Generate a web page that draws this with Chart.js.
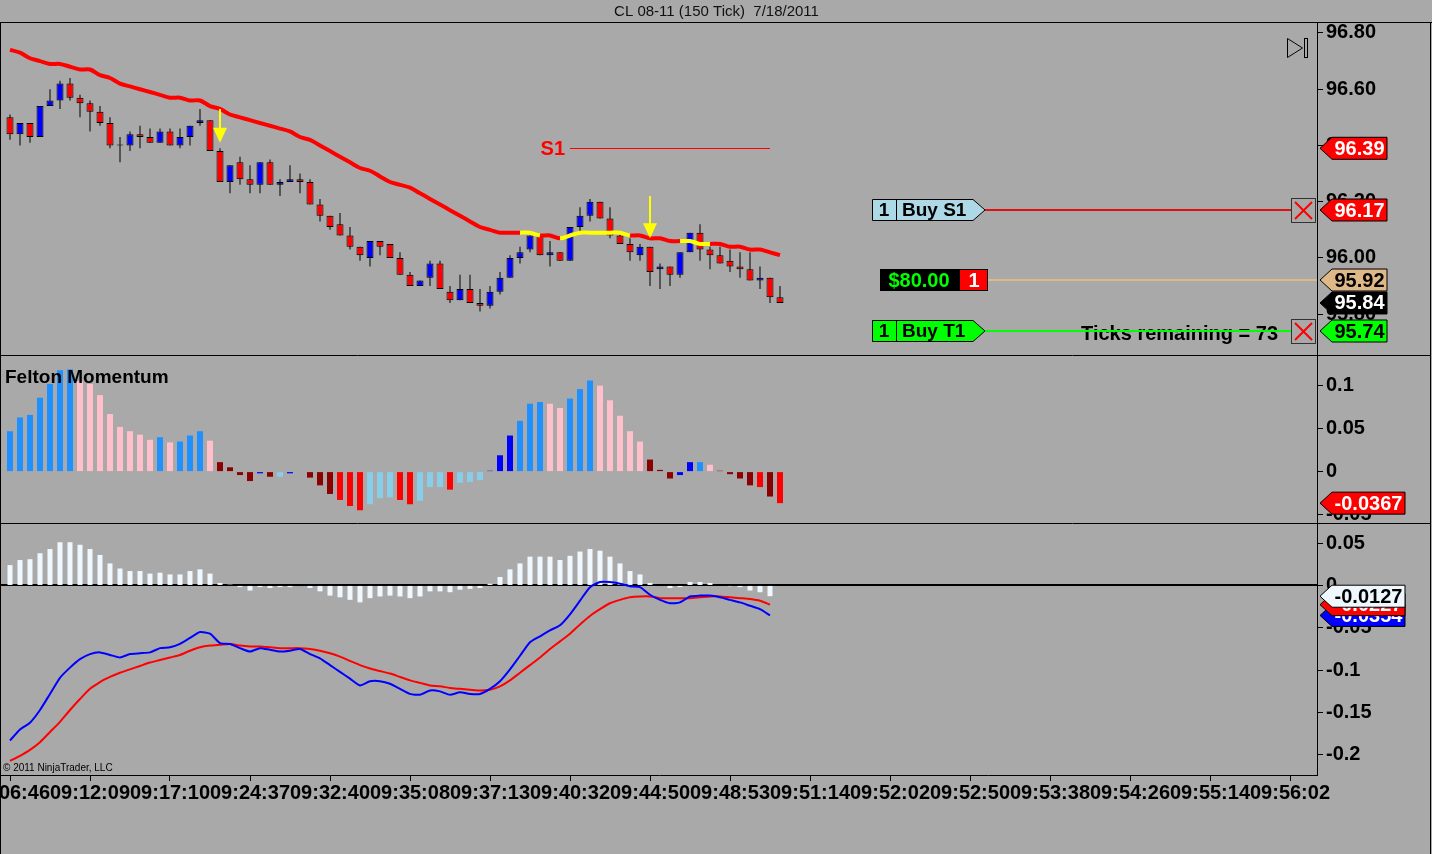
<!DOCTYPE html>
<html lang="en">
<head>
<meta charset="UTF-8">
<title>CL 08-11 (150 Tick) 7/18/2011</title>
<script src="https://cdn.jsdelivr.net/npm/chart.js"></script>
<style>
  html, body { margin: 0; padding: 0; background: #a9a9a9; overflow: hidden; }
  #wrap { width: 1432px; height: 854px; position: relative; }
</style>
</head>
<body>
<div id="wrap"><canvas id="chart"></canvas></div>
<script>
// ---- chart values ----
const timeLabels = ["09:06:46", "09:12:09", "09:17:10", "09:24:37", "09:32:40", "09:35:08", "09:37:13",
  "09:40:32", "09:44:50", "09:48:53", "09:51:14", "09:52:02", "09:52:50", "09:53:38", "09:54:26",
  "09:55:14", "09:56:02"];
const barsPerLabel = 8;

const opens = [96.50, 96.44, 96.48, 96.43, 96.54, 96.56, 96.62, 96.57, 96.55, 96.52,
  96.48, 96.40, 96.40, 96.44, 96.43, 96.41, 96.45, 96.40, 96.43, 96.48,
  96.49, 96.38, 96.27, 96.34, 96.28, 96.26, 96.34, 96.26, 96.27, 96.28,
  96.27, 96.19, 96.15, 96.12, 96.08, 96.04, 96.00, 96.06, 96.05, 96.00,
  95.94, 95.90, 95.93, 95.98, 95.88, 95.85, 95.89, 95.84, 95.83, 95.88,
  95.93, 96.00, 96.03, 96.08, 96.01, 96.02, 95.99, 96.11, 96.15, 96.20,
  96.14, 96.08, 96.05, 96.01, 96.04, 95.96, 95.97, 95.94, 96.02, 96.09,
  96.03, 96.01, 95.99, 95.97, 95.96, 95.92, 95.93, 95.86];
const highs = [96.51, 96.48, 96.48, 96.54, 96.60, 96.63, 96.64, 96.58, 96.56, 96.54,
  96.50, 96.43, 96.45, 96.47, 96.46, 96.46, 96.46, 96.46, 96.47, 96.53,
  96.49, 96.39, 96.33, 96.36, 96.33, 96.34, 96.35, 96.28, 96.33, 96.30,
  96.28, 96.21, 96.15, 96.16, 96.11, 96.04, 96.06, 96.06, 96.05, 96.02,
  95.95, 95.92, 95.99, 95.99, 95.90, 95.94, 95.94, 95.89, 95.90, 95.95,
  96.01, 96.04, 96.08, 96.08, 96.06, 96.02, 96.11, 96.18, 96.21, 96.20,
  96.18, 96.09, 96.07, 96.05, 96.04, 95.98, 95.97, 96.02, 96.09, 96.12,
  96.04, 96.04, 96.03, 96.02, 96.02, 95.97, 95.93, 95.90];
const lows = [96.42, 96.40, 96.41, 96.43, 96.54, 96.53, 96.56, 96.50, 96.45, 96.47,
  96.39, 96.34, 96.38, 96.39, 96.41, 96.41, 96.40, 96.39, 96.40, 96.47,
  96.38, 96.27, 96.23, 96.26, 96.23, 96.23, 96.26, 96.22, 96.27, 96.23,
  96.19, 96.13, 96.10, 96.08, 96.03, 95.99, 95.97, 96.01, 96.00, 95.94,
  95.90, 95.90, 95.90, 95.89, 95.84, 95.85, 95.84, 95.81, 95.82, 95.87,
  95.93, 95.98, 96.02, 96.01, 95.97, 95.99, 95.99, 96.09, 96.13, 96.14,
  96.07, 96.05, 95.99, 95.99, 95.90, 95.89, 95.90, 95.93, 96.02, 95.99,
  95.96, 95.98, 95.95, 95.93, 95.92, 95.89, 95.84, 95.84];
const closes = [96.44, 96.48, 96.43, 96.54, 96.56, 96.62, 96.57, 96.55, 96.52, 96.48,
  96.40, 96.40, 96.44, 96.43, 96.41, 96.45, 96.40, 96.43, 96.47, 96.49,
  96.38, 96.27, 96.33, 96.28, 96.26, 96.34, 96.26, 96.27, 96.28, 96.27,
  96.19, 96.15, 96.11, 96.08, 96.04, 96.01, 96.06, 96.04, 96.00, 95.94,
  95.90, 95.92, 95.98, 95.89, 95.85, 95.89, 95.84, 95.83, 95.88, 95.93,
  96.00, 96.02, 96.08, 96.01, 96.02, 95.99, 96.11, 96.15, 96.20, 96.14,
  96.08, 96.05, 96.02, 96.04, 95.95, 95.97, 95.94, 96.02, 96.09, 96.03,
  96.01, 95.98, 95.97, 95.96, 95.92, 95.93, 95.86, 95.84];

// moving average drawn over the candles, with the bars where it turns yellow
const smaValues = [96.74, 96.73, 96.71, 96.70, 96.69, 96.69, 96.68, 96.67, 96.67, 96.65,
  96.64, 96.62, 96.61, 96.60, 96.59, 96.58, 96.57, 96.57, 96.56, 96.56,
  96.54, 96.53, 96.51, 96.50, 96.49, 96.48, 96.47, 96.46, 96.45, 96.43,
  96.42, 96.40, 96.38, 96.36, 96.34, 96.32, 96.31, 96.29, 96.27, 96.26,
  96.25, 96.23, 96.21, 96.19, 96.17, 96.15, 96.13, 96.11, 96.10, 96.09,
  96.09, 96.09, 96.09, 96.08, 96.08, 96.07, 96.08, 96.09, 96.09, 96.09,
  96.09, 96.09, 96.08, 96.08, 96.07, 96.07, 96.06, 96.06, 96.06, 96.05,
  96.05, 96.05, 96.04, 96.04, 96.03, 96.03, 96.02, 96.01];
const smaYellowRuns = [[51, 53], [55, 62], [67, 70]];

// yellow down arrows
const signalBars = [21, 64];
const signalFrom = [96.53, 96.22];
const signalTo = [96.41, 96.07];

// S1 level and working orders
const s1Level = 96.39;
const s1FromBar = 56;
const s1ToBar = 76;
const buyStopPrice = 96.17;
const entryPrice = 95.92;
const targetPrice = 95.74;
const orderQty = 1;
const openPnl = "$80.00";
const ticksRemaining = 73;

// Felton Momentum histogram
const feltonValues = [0.047, 0.063, 0.066, 0.086, 0.102, 0.118, 0.119, 0.105, 0.102, 0.089,
  0.067, 0.052, 0.047, 0.043, 0.037, 0.040, 0.034, 0.035, 0.042, 0.047,
  0.036, 0.011, 0.005, -0.004, -0.011, -0.002, -0.006, -0.006, -0.002, 0.000,
  -0.007, -0.016, -0.026, -0.033, -0.040, -0.045, -0.038, -0.031, -0.030, -0.033,
  -0.038, -0.034, -0.018, -0.018, -0.021, -0.013, -0.012, -0.010, 0.001, 0.019,
  0.042, 0.059, 0.079, 0.081, 0.079, 0.074, 0.085, 0.096, 0.106, 0.100,
  0.083, 0.065, 0.047, 0.035, 0.014, 0.002, -0.008, -0.004, 0.011, 0.011,
  0.008, 0.001, -0.003, -0.008, -0.016, -0.018, -0.029, -0.0367];
const feltonStates = ["DB", "DB", "DB", "DB", "DB", "DB", "DB", "PK", "PK", "PK",
  "PK", "PK", "PK", "PK", "PK", "DB", "PK", "DB", "DB", "DB",
  "PK", "DR", "DR", "DR", "DR", "BL", "DR", "SB", "BL", "DR",
  "DR", "DR", "DR", "RD", "RD", "RD", "SB", "SB", "SB", "RD",
  "RD", "SB", "SB", "SB", "RD", "SB", "SB", "SB", "BL", "BL",
  "BL", "DB", "DB", "DB", "PK", "PK", "DB", "DB", "DB", "PK",
  "PK", "PK", "PK", "PK", "DR", "DR", "DR", "BL", "BL", "DB",
  "PK", "DR", "DR", "DR", "DR", "RD", "DR", "RD"];

// MACD panel
const macdHist = [0.024, 0.030, 0.031, 0.038, 0.043, 0.051, 0.051, 0.048, 0.043, 0.036,
  0.026, 0.020, 0.017, 0.017, 0.014, 0.015, 0.013, 0.013, 0.017, 0.019,
  0.014, 0.003, 0.001, -0.002, -0.006, -0.002, -0.003, -0.002, -0.002, 0.000,
  -0.003, -0.007, -0.012, -0.014, -0.017, -0.020, -0.015, -0.013, -0.012, -0.013,
  -0.015, -0.013, -0.007, -0.007, -0.008, -0.005, -0.004, -0.003, 0.002, 0.010,
  0.019, 0.026, 0.034, 0.034, 0.034, 0.030, 0.035, 0.040, 0.043, 0.041,
  0.034, 0.026, 0.017, 0.013, 0.003, 0.000, -0.003, -0.002, 0.004, 0.004,
  0.003, 0.000, -0.001, -0.002, -0.006, -0.008, -0.0127];
const macdLine = [-0.183, -0.170, -0.162, -0.147, -0.128, -0.109, -0.097, -0.087, -0.081, -0.079,
  -0.082, -0.085, -0.081, -0.080, -0.079, -0.074, -0.073, -0.069, -0.062, -0.055,
  -0.057, -0.068, -0.069, -0.074, -0.078, -0.074, -0.076, -0.078, -0.077, -0.075,
  -0.081, -0.086, -0.094, -0.102, -0.110, -0.118, -0.113, -0.113, -0.116, -0.122,
  -0.128, -0.129, -0.124, -0.125, -0.129, -0.126, -0.128, -0.128, -0.122, -0.113,
  -0.099, -0.083, -0.067, -0.060, -0.053, -0.047, -0.034, -0.018, -0.002, 0.004,
  0.004, 0.002, -0.001, -0.002, -0.011, -0.017, -0.021, -0.020, -0.013, -0.012,
  -0.012, -0.014, -0.017, -0.020, -0.024, -0.028, -0.0354];
const macdSignal = [-0.207, -0.201, -0.194, -0.185, -0.173, -0.161, -0.147, -0.134, -0.122, -0.114,
  -0.108, -0.103, -0.099, -0.095, -0.091, -0.088, -0.085, -0.082, -0.077, -0.073,
  -0.071, -0.070, -0.069, -0.071, -0.072, -0.072, -0.073, -0.074, -0.074, -0.074,
  -0.075, -0.077, -0.080, -0.084, -0.089, -0.094, -0.098, -0.101, -0.104, -0.108,
  -0.112, -0.115, -0.118, -0.119, -0.121, -0.122, -0.123, -0.124, -0.123, -0.119,
  -0.112, -0.103, -0.094, -0.085, -0.075, -0.066, -0.057, -0.046, -0.036, -0.028,
  -0.021, -0.017, -0.014, -0.013, -0.013, -0.015, -0.015, -0.015, -0.015, -0.014,
  -0.013, -0.013, -0.014, -0.015, -0.016, -0.018, -0.0227];

// axes
const priceTicks = [95.8, 96.0, 96.2, 96.4, 96.6, 96.8];
const feltonTicks = [-0.05, 0, 0.05, 0.1];
const macdTicks = [-0.2, -0.15, -0.1, -0.05, 0, 0.05];
const priceRange = [95.655, 96.839];
const feltonRange = [-0.0598, 0.1357];
const macdRange = [-0.2237, 0.0737];
const slotRange = [-0.9, 130.7];

// ---- look ----
const BG = '#a9a9a9';
const UP = '#0000ff';
const DOWN = '#ff0000';
const FELTON_COLORS = { DB: '#1e90ff', PK: '#ffc0cb', DR: '#8b0000', RD: '#ff0000', SB: '#87ceeb', BL: '#0000ff' };
const FONT = '"Liberation Sans", Arial, Helvetica, sans-serif';
const boldFont = (px) => 'bold ' + px + 'px ' + FONT;

const candleColors = closes.map((c, i) => c > opens[i] ? UP : (c < opens[i] ? DOWN : '#000'));
const xy = (arr) => arr.map((v, i) => ({ x: i, y: v }));
const inYellow = (a, b) => smaYellowRuns.some(([s, e]) => a >= s && b <= e);
const shortNum = (v) => String(+Number(v).toFixed(2));

function fixedAxis(ticks, fmt) {
  return {
    type: 'linear', position: 'right', stack: 'panels', offset: false,
    grid: { drawOnChartArea: false, drawTicks: true, tickLength: 6, color: '#000' },
    border: { display: true, color: '#000', width: 1 },
    ticks: { autoSkip: false, padding: 3, color: '#000', font: { family: FONT, size: 20, weight: 'bold' }, callback: fmt },
    afterBuildTicks: (s) => { s.ticks = ticks.map(v => ({ value: v })); },
    afterFit: (s) => { s.width = 115; s.paddingTop = 0; s.paddingBottom = 0; }
  };
}

// tag on the price axis pointing left at a value
function axisTag(ctx, x, y, w, text, fill, color) {
  const h = 22, a = 12;
  ctx.beginPath();
  ctx.moveTo(x, y);
  ctx.lineTo(x + a, y - h / 2);
  ctx.lineTo(x + a + w, y - h / 2);
  ctx.lineTo(x + a + w, y + h / 2);
  ctx.lineTo(x + a, y + h / 2);
  ctx.closePath();
  ctx.fillStyle = fill;
  ctx.fill();
  ctx.strokeStyle = '#000';
  ctx.lineWidth = 1;
  ctx.stroke();
  ctx.fillStyle = color;
  ctx.font = boldFont(20);
  ctx.textAlign = 'center';
  ctx.textBaseline = 'middle';
  ctx.fillText(text, x + a + w / 2, y + 1);
}

// order marker "qty | name" with a pointed right end
function orderTag(ctx, x, y, qty, name, fill) {
  const h = 21, w = 101, a = 12;
  ctx.beginPath();
  ctx.moveTo(x + 0.5, y - h / 2);
  ctx.lineTo(x + w, y - h / 2);
  ctx.lineTo(x + w + a, y);
  ctx.lineTo(x + w, y + h / 2);
  ctx.lineTo(x + 0.5, y + h / 2);
  ctx.closePath();
  ctx.fillStyle = fill;
  ctx.fill();
  ctx.strokeStyle = '#000';
  ctx.lineWidth = 1;
  ctx.stroke();
  ctx.beginPath();
  ctx.moveTo(x + 24.5, y - h / 2);
  ctx.lineTo(x + 24.5, y + h / 2);
  ctx.stroke();
  ctx.fillStyle = '#000';
  ctx.font = boldFont(19);
  ctx.textBaseline = 'middle';
  ctx.textAlign = 'center';
  ctx.fillText(String(qty), x + 12, y + 1);
  ctx.textAlign = 'left';
  ctx.fillText(name, x + 30, y + 1);
}

function cancelBox(ctx, x, y) {
  ctx.strokeStyle = '#333';
  ctx.lineWidth = 1;
  ctx.strokeRect(x + 0.5, y - 11.5, 24, 24);
  ctx.strokeStyle = '#ff0000';
  ctx.lineWidth = 2;
  ctx.beginPath();
  ctx.moveTo(x + 4, y - 8); ctx.lineTo(x + 21, y + 9);
  ctx.moveTo(x + 21, y - 8); ctx.lineTo(x + 4, y + 9);
  ctx.stroke();
}

const ntPanels = {
  id: 'ntPanels',
  beforeDatasetsDraw(chart) {
    const { ctx, chartArea } = chart;
    const yM = chart.scales.yM;
    const z = Math.round(yM.getPixelForValue(0));
    ctx.save();
    ctx.strokeStyle = '#000';
    ctx.lineWidth = 2;
    ctx.beginPath();
    ctx.moveTo(0, z);
    ctx.lineTo(chartArea.right, z);
    ctx.stroke();
    ctx.restore();
  },
  afterDraw(chart) {
    const { ctx, chartArea } = chart;
    const xs = chart.scales.x, yP = chart.scales.yP, yF = chart.scales.yF, yM = chart.scales.yM;
    const R = chartArea.right;
    const W = chart.width, H = chart.height;
    ctx.save();

    // yellow signal arrows
    signalBars.forEach((bar, k) => {
      const x = Math.round(xs.getPixelForValue(bar));
      const y0 = yP.getPixelForValue(signalFrom[k]);
      const y1 = yP.getPixelForValue(signalTo[k]);
      ctx.strokeStyle = '#ffff00';
      ctx.lineWidth = 2;
      ctx.beginPath();
      ctx.moveTo(x, y0);
      ctx.lineTo(x, y1 - 12);
      ctx.stroke();
      ctx.fillStyle = '#ffff00';
      ctx.beginPath();
      ctx.moveTo(x - 7, y1 - 15);
      ctx.lineTo(x + 7, y1 - 15);
      ctx.lineTo(x, y1);
      ctx.closePath();
      ctx.fill();
    });

    // S1 line
    const ys1 = Math.round(yP.getPixelForValue(s1Level)) + 0.5;
    ctx.strokeStyle = '#ff0000';
    ctx.lineWidth = 1;
    ctx.beginPath();
    ctx.moveTo(xs.getPixelForValue(s1FromBar), ys1);
    ctx.lineTo(xs.getPixelForValue(s1ToBar), ys1);
    ctx.stroke();
    ctx.fillStyle = '#ff0000';
    ctx.font = boldFont(20);
    ctx.textAlign = 'right';
    ctx.textBaseline = 'middle';
    ctx.fillText('S1', xs.getPixelForValue(s1FromBar) - 5, ys1 + 1);

    // working orders
    const yStop = Math.round(yP.getPixelForValue(buyStopPrice));
    const yEntry = Math.round(yP.getPixelForValue(entryPrice));
    const yTarget = Math.round(yP.getPixelForValue(targetPrice));

    ctx.lineWidth = 2;
    ctx.strokeStyle = '#e01010';
    ctx.beginPath(); ctx.moveTo(R - 332, yStop); ctx.lineTo(R - 26, yStop); ctx.stroke();
    orderTag(ctx, R - 445, yStop, orderQty, 'Buy S1', '#add8e6');
    cancelBox(ctx, R - 26, yStop);

    ctx.lineWidth = 2;
    ctx.strokeStyle = '#deb887';
    ctx.beginPath(); ctx.moveTo(R - 329, yEntry); ctx.lineTo(R, yEntry); ctx.stroke();
    ctx.fillStyle = '#000';
    ctx.fillRect(R - 437, yEntry - 11, 80, 22);
    ctx.fillStyle = '#ff0000';
    ctx.fillRect(R - 357, yEntry - 11, 28, 22);
    ctx.strokeStyle = '#000';
    ctx.lineWidth = 1;
    ctx.strokeRect(R - 436.5, yEntry - 10.5, 107, 21);
    ctx.font = boldFont(20);
    ctx.textAlign = 'center';
    ctx.textBaseline = 'middle';
    ctx.fillStyle = '#00ff00';
    ctx.fillText(openPnl, R - 398, yEntry + 1);
    ctx.fillStyle = '#fff';
    ctx.fillText(String(orderQty), R - 343, yEntry + 1);

    ctx.fillStyle = '#000';
    ctx.font = boldFont(20);
    ctx.textAlign = 'right';
    ctx.fillText('Ticks remaining = ' + ticksRemaining, R - 39, yTarget + 3);
    ctx.lineWidth = 2;
    ctx.strokeStyle = '#00ff00';
    ctx.beginPath(); ctx.moveTo(R - 332, yTarget); ctx.lineTo(R - 26, yTarget); ctx.stroke();
    orderTag(ctx, R - 445, yTarget, orderQty, 'Buy T1', '#00ff00');
    cancelBox(ctx, R - 26, yTarget);

    // scroll-to-end glyph
    ctx.strokeStyle = '#000';
    ctx.lineWidth = 1;
    ctx.beginPath();
    ctx.moveTo(R - 29.5, 38.5); ctx.lineTo(R - 29.5, 57.5); ctx.lineTo(R - 14.5, 48); ctx.closePath();
    ctx.stroke();
    ctx.strokeRect(R - 12.5, 38.5, 3, 19);

    // price axis tags
    axisTag(ctx, R + 3, yP.getPixelForValue(s1Level), 55, s1Level.toFixed(2), '#ff0000', '#fff');
    axisTag(ctx, R + 3, yStop, 55, buyStopPrice.toFixed(2), '#ff0000', '#fff');
    axisTag(ctx, R + 3, yEntry, 55, entryPrice.toFixed(2), '#deb887', '#000');
    axisTag(ctx, R + 3, yP.getPixelForValue(closes[closes.length - 1]), 55, closes[closes.length - 1].toFixed(2), '#000', '#fff');
    axisTag(ctx, R + 3, yTarget, 55, targetPrice.toFixed(2), '#00ff00', '#000');

    // indicator tags
    const fLast = feltonValues[feltonValues.length - 1];
    axisTag(ctx, R + 3, yF.getPixelForValue(fLast), 73, fLast.toFixed(4), '#ff0000', '#fff');
    const mLast = macdLine[macdLine.length - 1];
    const sLast = macdSignal[macdSignal.length - 1];
    const hLast = macdHist[macdHist.length - 1];
    axisTag(ctx, R + 3, yM.getPixelForValue(mLast), 73, mLast.toFixed(4), '#0000ff', '#fff');
    axisTag(ctx, R + 3, yM.getPixelForValue(sLast), 73, sLast.toFixed(4), '#ff0000', '#fff');
    axisTag(ctx, R + 3, yM.getPixelForValue(hLast), 73, hLast.toFixed(4), '#f0f8ff', '#000');

    // panel captions
    ctx.fillStyle = '#000';
    ctx.font = boldFont(19);
    ctx.textAlign = 'left';
    ctx.textBaseline = 'middle';
    ctx.fillText('Felton Momentum', chartArea.left + 4, yF.top + 23);
    ctx.font = '10px ' + FONT;
    ctx.fillText('\u00a9 2011 NinjaTrader, LLC', chartArea.left + 2, yM.bottom - 7);

    // panel frames
    ctx.strokeStyle = '#000';
    ctx.lineWidth = 1;
    ctx.beginPath();
    ctx.moveTo(0, chartArea.top + 0.5); ctx.lineTo(W, chartArea.top + 0.5);
    ctx.moveTo(0, Math.round(yF.top) + 0.5); ctx.lineTo(W - 2, Math.round(yF.top) + 0.5);
    ctx.moveTo(0, Math.round(yM.top) + 0.5); ctx.lineTo(W - 2, Math.round(yM.top) + 0.5);
    ctx.moveTo(0.5, chartArea.top); ctx.lineTo(0.5, H);
    ctx.moveTo(W - 1.5, chartArea.top); ctx.lineTo(W - 1.5, H);
    ctx.stroke();
    ctx.restore();
  }
};

new Chart(document.getElementById('chart'), {
  type: 'bar',
  data: {
    datasets: [
      {
        label: 'Wicks', yAxisID: 'yP', order: 4, grouped: false,
        data: lows.map((l, i) => ({ x: i, y: [l, highs[i]] })),
        backgroundColor: '#000', maxBarThickness: 1, minBarLength: 1, borderWidth: 0
      },
      {
        label: 'Bodies', yAxisID: 'yP', order: 3, grouped: false,
        data: opens.map((o, i) => ({ x: i, y: [o, closes[i]] })),
        backgroundColor: candleColors, borderColor: '#000', borderWidth: 1, borderSkipped: false,
        maxBarThickness: 7, minBarLength: 1
      },
      {
        type: 'line', label: 'SMA', yAxisID: 'yP', order: 1,
        data: xy(smaValues), borderColor: '#ff0000', borderWidth: 4, pointRadius: 0, tension: 0.3,
        segment: { borderColor: (c) => inYellow(c.p0DataIndex, c.p1DataIndex) ? '#ffff00' : '#ff0000' }
      },
      {
        label: 'Felton Momentum', yAxisID: 'yF', order: 2, grouped: false,
        data: xy(feltonValues), backgroundColor: feltonStates.map(s => FELTON_COLORS[s]),
        maxBarThickness: 6, borderWidth: 0
      },
      {
        label: 'Histogram', yAxisID: 'yM', order: 3, grouped: false,
        data: xy(macdHist), backgroundColor: '#f0f8ff', maxBarThickness: 5, borderWidth: 0
      },
      {
        type: 'line', label: 'Avg', yAxisID: 'yM', order: 1,
        data: xy(macdSignal), borderColor: '#ff0000', borderWidth: 2, pointRadius: 0, tension: 0.2
      },
      {
        type: 'line', label: 'MACD', yAxisID: 'yM', order: 0,
        data: xy(macdLine), borderColor: '#0000ff', borderWidth: 2, pointRadius: 0, tension: 0.2
      }
    ]
  },
  options: {
    responsive: true,
    maintainAspectRatio: false,
    animation: false,
    events: [],
    layout: { padding: { left: 1, right: 0, top: 0, bottom: 0 }, autoPadding: false },
    plugins: {
      legend: { display: false },
      tooltip: { enabled: false },
      title: {
        display: true, text: 'CL 08-11 (150 Tick)  7/18/2011', color: '#111',
        font: { family: FONT, size: 15, weight: 'normal', lineHeight: '17px' },
        padding: { top: 3, bottom: 2 }
      }
    },
    scales: {
      x: {
        type: 'linear', min: slotRange[0], max: slotRange[1], offset: false,
        grid: { drawOnChartArea: false, drawTicks: true, tickLength: 6, color: '#000', offset: false },
        border: { display: true, color: '#000', width: 1 },
        ticks: {
          autoSkip: false, maxRotation: 0, minRotation: 0, padding: 0, color: '#000',
          font: { family: FONT, size: 20, weight: 'bold' },
          callback: (v, i) => timeLabels[i]
        },
        afterBuildTicks: (s) => { s.ticks = timeLabels.map((_, k) => ({ value: k * barsPerLabel })); },
        afterFit: (s) => { s.height = 79; s.paddingLeft = 0; s.paddingRight = 0; }
      },
      yP: Object.assign(fixedAxis(priceTicks, (v) => Number(v).toFixed(2)),
        { min: priceRange[0], max: priceRange[1], stackWeight: 333, weight: 1 }),
      yF: Object.assign(fixedAxis(feltonTicks, shortNum),
        { min: feltonRange[0], max: feltonRange[1], stackWeight: 168, weight: 2 }),
      yM: Object.assign(fixedAxis(macdTicks, shortNum),
        { min: macdRange[0], max: macdRange[1], stackWeight: 252, weight: 3 })
    }
  },
  plugins: [ntPanels]
});
</script>
</body>
</html>
